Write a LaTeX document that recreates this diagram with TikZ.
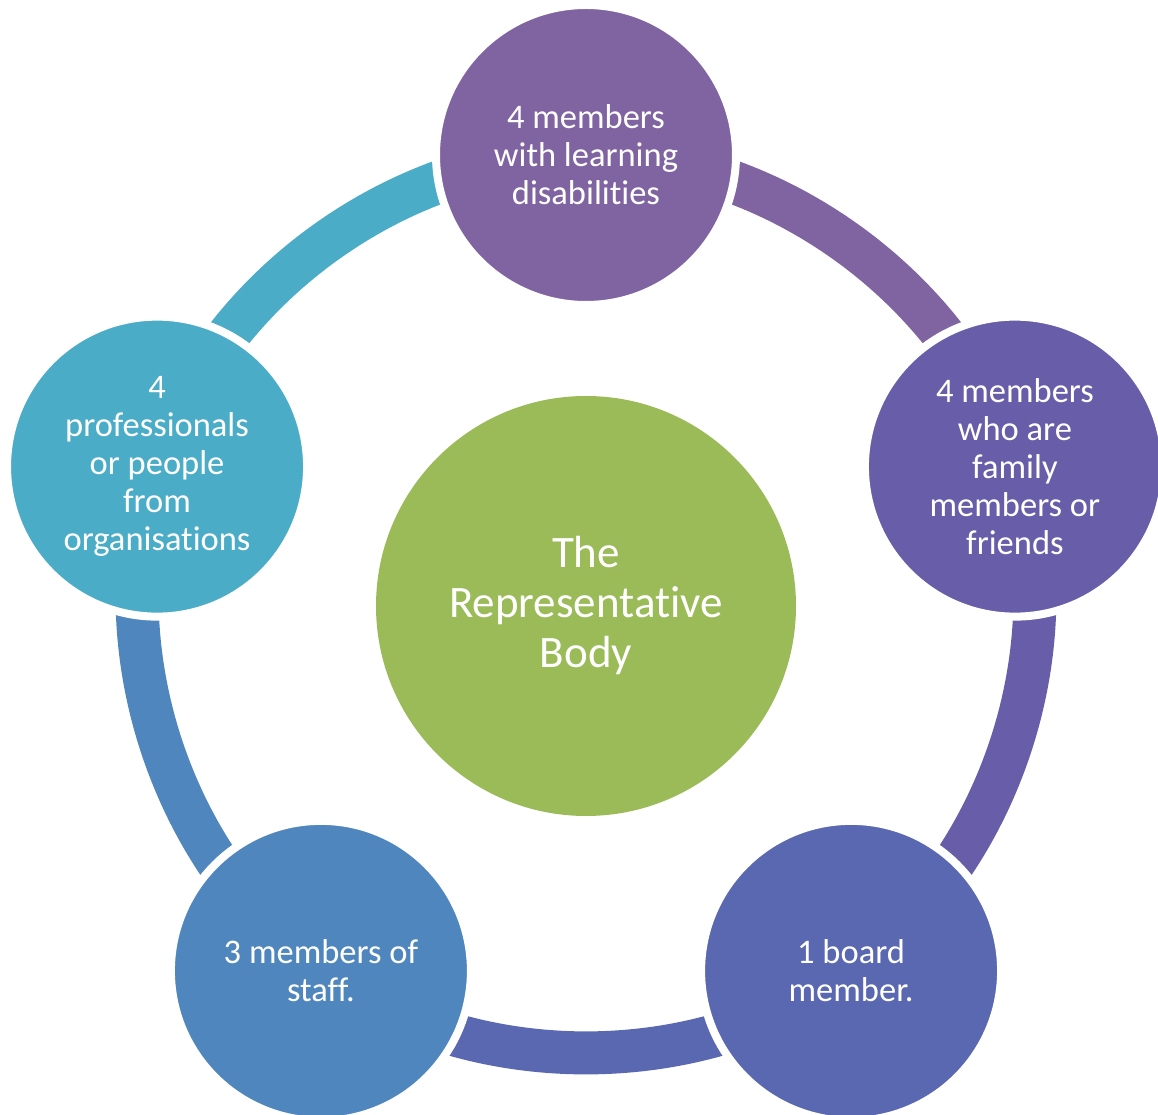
\documentclass[tikz,border=0pt]{standalone}
\usepackage{fontspec}
\setmainfont[Ligatures=NoCommon]{Carlito}
\usetikzlibrary{backgrounds}
\definecolor{bodygreen}{HTML}{9BBB59}
\definecolor{learncol}{HTML}{8064A2}
\definecolor{familycol}{HTML}{685DA8}
\definecolor{boardcol}{HTML}{5A67B1}
\definecolor{staffcol}{HTML}{4F86BE}
\definecolor{profcol}{HTML}{4AACC6}

\begin{document}
\begin{tikzpicture}[x=1pt,y=1pt,semithick]
  \tikzstyle{member}=[circle, draw=white, line width=8pt, minimum size=300pt,
                      inner sep=0pt, text=white, align=center,
                      font=\fontsize{34.5}{38}\selectfont]
  \tikzstyle{link}=[line width=43pt, bend left=36, looseness=0.9]
  \useasboundingbox (-586,-509) rectangle (572,606);

  \node[circle, fill=bodygreen, minimum size=420pt, inner sep=0pt, text=white,
        align=center, font=\fontsize{45}{50}\selectfont] (body) at (0,0)
        {The\\Representative\\Body};

  \node[member, fill=learncol]  (learn)  at (90:451)  {4 members\\with learning\\disabilities};
  \node[member, fill=familycol] (family) at (18:451)  {4 members\\who are\\family\\members or\\friends};
  \node[member, fill=boardcol]  (board)  at (-54:451) {1 board\\member.};
  \node[member, fill=staffcol]  (staff)  at (234:451) {3 members of\\staff.};
  \node[member, fill=profcol]   (prof)   at (162:451) {4\\professionals\\or people\\from\\organisations};

  % ring behind the circles
  \begin{pgfonlayer}{background}
    \path[link] (learn.center)  edge[draw=learncol]  (family.center)
                (family.center) edge[draw=familycol] (board.center)
                (board.center)  edge[draw=boardcol]  (staff.center)
                (staff.center)  edge[draw=staffcol]  (prof.center)
                (prof.center)   edge[draw=profcol]   (learn.center);
  \end{pgfonlayer}
\end{tikzpicture}
\end{document}
